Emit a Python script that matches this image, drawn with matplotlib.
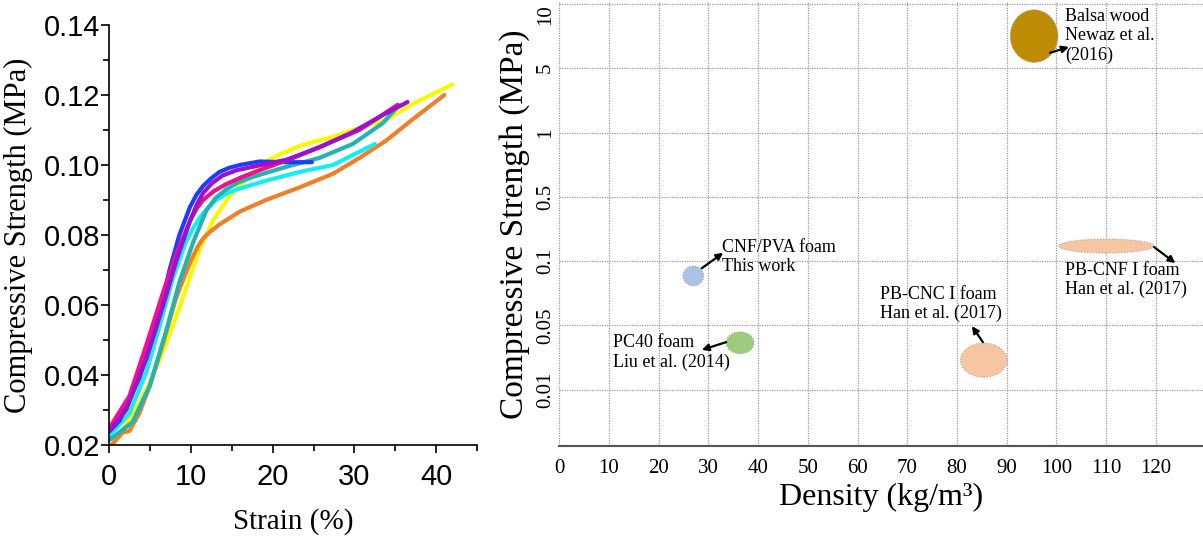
import numpy as np
import matplotlib
matplotlib.use("Agg")
import matplotlib.pyplot as plt
from matplotlib.patches import Ellipse

# ---- left panel: stress-strain curves (strain %, strength MPa) ----
yellow_x = [0.5, 2.1, 3.5, 5.0, 7.0, 8.6, 9.9, 11.1, 12.7, 14.7, 16.4, 18.8, 21.3, 24.0, 27.4, 29.8, 33.9, 37.6, 42.0]
yellow_y = [0.020, 0.026, 0.031, 0.038, 0.049, 0.059, 0.068, 0.076, 0.084, 0.091, 0.095, 0.1005, 0.1035, 0.106, 0.108, 0.110, 0.113, 0.118, 0.123]
orange_x = [0.3, 1.7, 2.5, 3.7, 5.0, 6.6, 8.2, 9.2, 9.9, 10.8, 11.5, 12.4, 13.5, 16.0, 19.2, 23.3, 27.4, 30.6, 33.9, 37.1, 41.0]
orange_y = [0.020, 0.0236, 0.024, 0.029, 0.037, 0.049, 0.062, 0.068, 0.072, 0.0765, 0.079, 0.081, 0.083, 0.0867, 0.090, 0.0936, 0.0975, 0.102, 0.107, 0.113, 0.120]
cyan_x = [0.1, 2.5, 4.6, 6.2, 7.8, 9.4, 10.3, 11.1, 12.0, 13.1, 14.5, 16.0, 19.2, 23.3, 27.4, 32.5]
cyan_y = [0.0227, 0.029, 0.041, 0.054, 0.0675, 0.078, 0.082, 0.085, 0.0875, 0.090, 0.092, 0.0933, 0.0955, 0.098, 0.100, 0.106]
teal_x = [0.1, 2.9, 5.0, 7.0, 8.6, 10.3, 11.9, 13.0, 14.3, 15.8, 17.6, 21.7, 25.7, 29.8, 33.5, 35.3]
teal_y = [0.0215, 0.0266, 0.037, 0.0527, 0.0665, 0.078, 0.087, 0.0905, 0.093, 0.095, 0.0966, 0.0995, 0.102, 0.106, 0.112, 0.1167]
blue_x = [0.1, 1.3, 3.7, 5.8, 7.4, 8.6, 9.9, 10.7, 11.5, 12.5, 13.5, 14.7, 16.0, 18.4, 21.5, 24.8]
blue_y = [0.024, 0.027, 0.039, 0.054, 0.070, 0.080, 0.088, 0.0915, 0.094, 0.0962, 0.098, 0.0992, 0.100, 0.101, 0.1008, 0.1008]
magenta_x = [0.1, 2.5, 4.6, 6.6, 8.2, 9.9, 10.7, 11.5, 12.8, 14.3, 16.2, 18.4, 22.5, 26.6, 30.6, 35.3]
magenta_y = [0.025, 0.034, 0.0488, 0.0635, 0.0744, 0.084, 0.0875, 0.090, 0.0925, 0.0945, 0.0965, 0.0985, 0.102, 0.106, 0.110, 0.1172]
purple_x = [0.1, 2.1, 4.6, 6.6, 8.2, 9.9, 10.7, 11.5, 12.6, 13.9, 15.6, 17.6, 21.7, 25.7, 29.8, 33.5, 36.5]
purple_y = [0.024, 0.030, 0.0448, 0.0597, 0.0724, 0.084, 0.0885, 0.092, 0.0948, 0.097, 0.0985, 0.0995, 0.1015, 0.105, 0.1094, 0.1143, 0.118]

# ---- right panel: density vs strength (strength on level scale) ----
level_labels = ['0.01', '0.05', '0.1', '0.5', '1', '5', '10']
foam_names = ['CNF/PVA foam\nThis work', 'PC40 foam\nLiu et al. (2014)', 'PB-CNC I foam\nHan et al. (2017)',
              'PB-CNF I foam\nHan et al. (2017)', 'Balsa wood\nNewaz et al.\n(2016)']
foam_density = [27.0, 36.4, 85.4, 110.0, 95.5]
foam_level = [2.77, 1.73, 1.46, 3.235, 6.50]
foam_dw = [4.2, 5.6, 9.4, 19.1, 9.6]
foam_dh = [0.31, 0.34, 0.53, 0.22, 0.82]
foam_colors = ['#aac3e6', '#9ccb7c', '#f6c5a2', '#f6c5a2', '#bd8c02']
arrow_tail = [(28.7, 2.89), (33.6, 1.74), (85.2, 1.74), (119.6, 3.22), (98.7, 6.24)]
arrow_head = [(33.0, 3.13), (28.7, 1.62), (83.0, 1.99), (123.9, 2.97), (102.5, 6.33)]
label_pos = [(32.8, 3.06), (10.9, 1.58), (64.5, 2.33), (101.7, 2.71), (101.7, 6.50)]

serif = 'Liberation Serif'
sans = 'Liberation Sans'

fig = plt.figure(figsize=(12.03, 5.41), dpi=100)

# left
ax1 = fig.add_axes([0.0906, 0.1775, 0.306, 0.7763])
curves = [(yellow_x, yellow_y, '#f8f800'), (orange_x, orange_y, '#f07f2c'),
          (cyan_x, cyan_y, '#14eef2'), (teal_x, teal_y, '#22b4b0'),
          (blue_x, blue_y, '#1e3cff'), (magenta_x, magenta_y, '#f0108a'),
          (purple_x, purple_y, '#9a12d0')]
for xs, ys, c in curves:
    ax1.plot(xs, ys, color=c, lw=3, solid_capstyle='round', solid_joinstyle='round')
ax1.set_xlim(0, 45)
ax1.set_ylim(0.02, 0.14)
ax1.set_xticks([0, 10, 20, 30, 40])
ax1.set_xticks([5, 15, 25, 35, 45], minor=True)
ax1.set_yticks([0.02, 0.04, 0.06, 0.08, 0.10, 0.12, 0.14])
ax1.set_yticks(np.arange(0.03, 0.14, 0.02), minor=True)
ax1.set_yticklabels(['0.02', '0.04', '0.06', '0.08', '0.10', '0.12', '0.14'])
for lab in ax1.get_xticklabels() + ax1.get_yticklabels():
    lab.set_fontfamily(sans)
    lab.set_fontsize(21)
ax1.tick_params(which='major', length=6, width=1.2)
ax1.tick_params(axis='y', which='major', pad=0)
ax1.tick_params(axis='x', which='major', pad=7)
ax1.tick_params(which='minor', length=4, width=1.2)
ax1.spines['top'].set_visible(False)
ax1.spines['right'].set_visible(False)
for s in ['left', 'bottom']:
    ax1.spines[s].set_linewidth(1.2)
ax1.set_xlabel('Strain (%)', family=serif, fontsize=21, labelpad=12)
ax1.set_ylabel('Compressive Strength (MPa)', family=serif, fontsize=22, labelpad=8)

# right
ax2 = fig.add_axes([0.4647, 0.1756, 0.5353, 0.8207])
ax2.set_xlim(0, 129.45)
ax2.set_ylim(0.125, 7.03)
ax2.set_axisbelow(True)
ax2.set_xticks(range(0, 130, 10))
ax2.set_yticks(range(1, 8))
ax2.set_yticklabels(level_labels, rotation=90, va='center', family=serif, fontsize=15)
ax2.get_yticklabels()[-1].set_va('top')
ax2.set_xticklabels([str(v) for v in range(0, 130, 10)], family=serif, fontsize=15)
ax2.tick_params(length=0)
ax2.tick_params(axis='x', pad=9)
ax2.tick_params(axis='y', pad=3)
ax2.grid(True, color='#9a9a9a', lw=0.9, ls=(0, (1, 1)))
for s in ['top', 'right', 'left']:
    ax2.spines[s].set_visible(False)
ax2.spines['bottom'].set_color('#555555')
ax2.spines['bottom'].set_linewidth(1.5)

for i in range(len(foam_names)):
    ax2.add_patch(Ellipse((foam_density[i], foam_level[i]), foam_dw[i], foam_dh[i],
                          facecolor=foam_colors[i], edgecolor='#aaaaaa', lw=0.8, ls=':', zorder=3))
    ax2.annotate('', xy=arrow_head[i], xytext=arrow_tail[i],
                 arrowprops=dict(arrowstyle='-|>', color='black', lw=1.6,
                                 mutation_scale=10, shrinkA=0, shrinkB=0), zorder=4)
    ax2.text(label_pos[i][0], label_pos[i][1], foam_names[i], family=serif, fontsize=13,
             ha='left', va='center', linespacing=1.15, zorder=4)

ax2.set_xlabel('Density (kg/m³)', family=serif, fontsize=23, labelpad=4)
ax2.set_ylabel('Compressive Strength (MPa)', family=serif, fontsize=24, labelpad=4)

fig.savefig('out.png', dpi=100)
